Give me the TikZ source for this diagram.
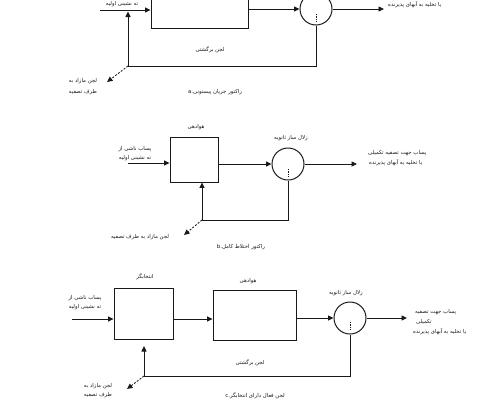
\documentclass[tikz,border=0pt]{standalone}
\usepackage{fontspec}
\newfontfamily\fa[Script=Arabic]{DejaVu Sans}
\TeXXeTstate=1
\usetikzlibrary{arrows.meta}
\newcommand{\rtltext}[1]{\beginR #1\endR}
\begin{document}
\begin{tikzpicture}[x=1pt,y=-1pt,
  ln/.style={draw=black!90, line width=0.85pt},
  arr/.style={ln, -{Triangle[length=5.5pt,width=5pt]}},
  dsh/.style={arr, dash pattern=on 2pt off 1.5pt},
  dotmark/.style={draw=black!90, line width=0.6pt, dash pattern=on 1.2pt off 1.2pt},
  blk/.style={draw=black!90, line width=0.9pt, inner sep=0, fill=white},
  ring/.style={draw=black!90, line width=1pt, circle, inner sep=0, minimum size=32pt},
  txt/.style={font=\fa\fontsize{5.4}{6.4}\selectfont, inner sep=0, text=black!90}]
\useasboundingbox (0,0) rectangle (495,400);
% ---------------- panel a ----------------
\node[blk, minimum width=97pt, minimum height=48pt] (boxA) at (199.5,4) {};
\node[ring] (cA) at (316,9) {};
\coordinate (inA) at (100,10);
\coordinate (outA) at (384,9);
\coordinate (fbA) at (128,66);
\coordinate (tipA) at (128,11.5);
\coordinate (exA) at (107,82);
\draw[arr] (inA) -- (inA -| boxA.west);
\draw[arr] (boxA.east |- cA) -- (cA.west);
\draw[arr] (cA.east) -- (outA);
\draw[arr] (cA.south) |- (fbA) -- (tipA);
\draw[dotmark] ([yshift=-5pt]cA.center) -- ([yshift=-13pt]cA.center);
\draw[dsh] (fbA) -- (exA);
\node[txt] (tinA) at (122,4) {\rtltext{ته نشینی اولیه}};
\node[txt, anchor=west] (toutA) at (388,4.5) {\rtltext{یا تخلیه به آبهای پذیرنده}};
\node[txt] (tretA) at (210,50) {\rtltext{لجن برگشتی}};
\node[txt] (texA1) at (83,81) {\rtltext{لجن مازاد به}};
\node[txt] (texA2) at (83,92) {\rtltext{طرف تصفیه}};
\node[txt] (capA) at (215,92) {\rtltext{راکتور جریان پیستونی.\beginL a\endL}};
% ---------------- panel b ----------------
\node[blk, minimum width=48pt, minimum height=45pt] (boxB) at (194,159.5) {};
\node[ring] (cB) at (288,164) {};
\coordinate (inB) at (128,163);
\coordinate (outB) at (357,164);
\coordinate (fbB) at (202,220);
\coordinate (exB) at (184,235);
\draw[arr] (inB) -- (inB -| boxB.west);
\draw[arr] (boxB.east |- cB) -- (cB.west);
\draw[arr] (cB.east) -- (outB);
\draw[arr] (cB.south) |- (fbB) -- (fbB |- boxB.south);
\draw[dotmark] ([yshift=-5pt]cB.center) -- ([yshift=-13pt]cB.center);
\draw[dsh] (fbB) -- (exB);
\node[txt] (hB) at (196,127.5) {\rtltext{هوادهی}};
\node[txt] (zB) at (291,138.5) {\rtltext{زلال ساز ثانویه}};
\node[txt] (inB1) at (135,149) {\rtltext{پساب ناشی از}};
\node[txt] (inB2) at (135,158) {\rtltext{ته نشینی اولیه}};
\node[txt, anchor=west] (outB1) at (368,153) {\rtltext{پساب جهت تصفیه تکمیلی}};
\node[txt, anchor=west] (outB2) at (369,163) {\rtltext{یا تخلیه به آبهای پذیرنده}};
\node[txt] (exBt) at (140,237) {\rtltext{لجن مازاد به طرف تصفیه}};
\node[txt] (capB) at (241,247) {\rtltext{راکتور اختلاط کامل.\beginL b\endL}};
% ---------------- panel c ----------------
\node[blk, minimum width=59pt, minimum height=51pt] (boxC1) at (143.5,313.5) {};
\node[blk, minimum width=83pt, minimum height=50pt] (boxC2) at (254.5,315) {};
\node[ring] (cC) at (350,318) {};
\coordinate (inC) at (72,319);
\coordinate (outC) at (407,318);
\coordinate (fbC) at (144,376);
\coordinate (tipC) at (144,346);
\coordinate (exC) at (127,389);
\draw[arr] (inC) -- (inC -| boxC1.west);
\draw[arr] (boxC1.east |- inC) -- (boxC2.west |- inC);
\draw[arr] (boxC2.east |- cC) -- (cC.west);
\draw[arr] (cC.east) -- (outC);
\draw[arr] (cC.south) |- (fbC) -- (tipC);
\draw[dotmark] ([yshift=-4pt]cC.center) -- ([yshift=-12pt]cC.center);
\draw[dsh] (fbC) -- (exC);
\node[txt] (selC) at (145,277) {\rtltext{انتخابگر}};
\node[txt] (hC) at (248,281) {\rtltext{هوادهی}};
\node[txt] (zC) at (346,293) {\rtltext{زلال ساز ثانویه}};
\node[txt] (inC1) at (85,298) {\rtltext{پساب ناشی از}};
\node[txt] (inC2) at (85,307) {\rtltext{ته نشینی اولیه}};
\node[txt, anchor=west] (outC1) at (415,312) {\rtltext{پساب جهت تصفیه}};
\node[txt, anchor=west] (outC2) at (416,322) {\rtltext{تکمیلی}};
\node[txt, anchor=west] (outC3) at (413,332) {\rtltext{یا تخلیه به آبهای پذیرنده}};
\node[txt] (retC) at (250,363) {\rtltext{لجن برگشتی}};
\node[txt] (exC1) at (98,386.5) {\rtltext{لجن مازاد به}};
\node[txt] (exC2) at (98,395.5) {\rtltext{طرف تصفیه}};
\node[txt] (capC) at (255,396) {\rtltext{لجن فعال دارای انتخابگر.\beginL c\endL}};
\end{tikzpicture}
\end{document}
